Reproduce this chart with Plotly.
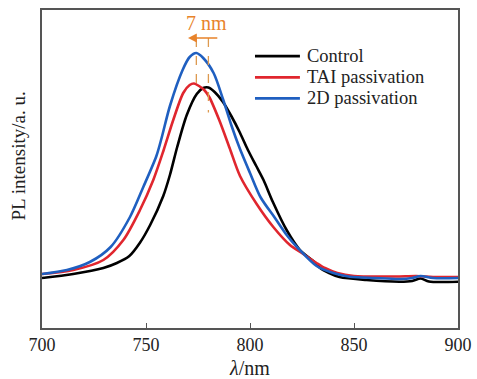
import plotly.graph_objects as go

# ---- data ----
names = ["Control", "TAI passivation", "2D passivation"]
colors = ["#000000", "#e0262e", "#1f5fc0"]

wl_control = [700, 715, 729.5, 736, 742, 747, 752, 758.3, 761.5, 765, 769.6, 774.4, 777.5, 780, 783, 787,
              791, 795, 799, 803, 806.5, 811, 817.6, 824, 830.4, 833.7, 838, 843, 856, 872, 878, 882,
              886, 900]
pl_control = [50, 54, 60, 65, 72, 85, 103, 132, 153, 181, 213, 234, 240, 240.5, 236, 226,
              212, 196, 178, 162, 148, 126, 98, 78, 67, 60, 55, 51, 48, 46.3, 47, 49.5,
              46.5, 46.3]

wl_tai = [700, 715, 729.5, 739.1, 747.1, 753.5, 758.5, 763.1, 767.9, 771, 773.1, 775.5, 778, 780.4, 785.2,
          790.2, 795.2, 803.2, 811.2, 819.2, 825.6, 832, 836, 842, 850, 870, 880, 888, 900]
pl_tai = [54, 58, 68, 88, 118, 148, 178, 208, 235, 243, 244.5, 242, 238, 231, 208,
          180, 152, 124, 101, 83, 74, 65, 60, 55, 52, 51.5, 52, 51, 51]

wl_2d = [700, 712, 723, 733, 742.3, 748.7, 755, 757.5, 761.5, 767.6, 771, 774.2, 777.5, 782.5, 787,
         791, 795, 800, 805, 812, 818, 823, 832, 840, 848, 860, 872, 878, 882, 888, 900]
pl_2d = [54, 58, 66, 81, 111, 141, 172, 190, 222, 258, 271, 275, 270, 255, 229,
         203, 180, 155, 131, 110, 92, 80, 62, 55, 51.3, 50, 49, 50, 52, 50, 50]

x_ticks = [700, 750, 800, 850, 900]
shift_label = "7 nm"
y_title = "PL intensity/a. u."
x_title = "<i>λ</i>/nm"

series = [(wl_control, pl_control), (wl_tai, pl_tai), (wl_2d, pl_2d)]

FONT = "Liberation Serif, Times New Roman, serif"
ORANGE = "#e8832a"
DASH = "#dd9a50"
AXC = "#555555"
TXT = "#222222"

fig = go.Figure()
for (wx, wy), n, c in zip(series, names, colors):
    fig.add_trace(go.Scatter(x=wx, y=wy, mode="lines", name=n, showlegend=False,
                             line=dict(color=c, width=2.6, shape="spline", smoothing=0.8)))

# manual legend (paper coordinates)
leg_y = [0.855, 0.788, 0.722]
for n, c, ly in zip(names, colors, leg_y):
    fig.add_shape(type="line", xref="paper", yref="paper", x0=0.512, x1=0.620, y0=ly, y1=ly,
                  line=dict(color=c, width=2.8))
    fig.add_annotation(xref="paper", yref="paper", x=0.633, y=ly, text=n, showarrow=False,
                       xanchor="left", yanchor="middle", font=dict(family=FONT, size=18.5, color=TXT))

# peaks for the shift marker
def peak(wx, wy):
    i = max(range(len(wy)), key=lambda k: wy[k])
    return wx[i], wy[i]

p_ctrl = peak(wl_control, pl_control)
p_tai = peak(wl_tai, pl_tai)
p_2d = peak(wl_2d, pl_2d)
arrow_y = 290

fig.add_shape(type="line", x0=p_2d[0], x1=p_2d[0], y0=arrow_y, y1=p_tai[1],
              line=dict(color=DASH, width=1.3, dash="dash"))
fig.add_shape(type="line", x0=p_ctrl[0], x1=p_ctrl[0], y0=arrow_y, y1=p_ctrl[1] - 25,
              line=dict(color=DASH, width=1.3, dash="dash"))
fig.add_annotation(x=p_2d[0] - 4, y=arrow_y, ax=p_ctrl[0] + 5, ay=arrow_y, axref="x", ayref="y",
                   xref="x", yref="y", text="", showarrow=True, arrowhead=2, arrowsize=1.1,
                   arrowwidth=1.6, arrowcolor=ORANGE)
fig.add_annotation(x=(p_2d[0] + p_ctrl[0]) / 2 + 1.8, y=305, text=shift_label, showarrow=False,
                   yanchor="middle", font=dict(family=FONT, size=20, color=ORANGE))

# y title as annotation (positioned as in reference)
fig.add_annotation(xref="paper", yref="paper", x=-0.0565, y=0.541, text=y_title, textangle=-90,
                   showarrow=False, xanchor="center", yanchor="middle",
                   font=dict(family=FONT, size=19, color=TXT))

fig.update_layout(
    width=477, height=379,
    margin=dict(l=42, r=19, t=10, b=51, autoexpand=False),
    paper_bgcolor="white", plot_bgcolor="white",
    font=dict(family=FONT, size=18, color=TXT),
    showlegend=False,
    xaxis=dict(range=[700, 900], tickvals=x_ticks, ticks="inside", ticklen=5, tickcolor=AXC,
               showline=True, linecolor=AXC, linewidth=1.5, mirror=True, showgrid=False, zeroline=False,
               automargin=False,
               title=dict(text=x_title, standoff=8, font=dict(family=FONT, size=20)),
               tickfont=dict(family=FONT, size=18)),
    yaxis=dict(range=[0, 318], showticklabels=False, ticks="", showline=True, linecolor=AXC,
               linewidth=1.5, mirror=True, showgrid=False, zeroline=False, automargin=False),
)

fig.write_html("out.html")
